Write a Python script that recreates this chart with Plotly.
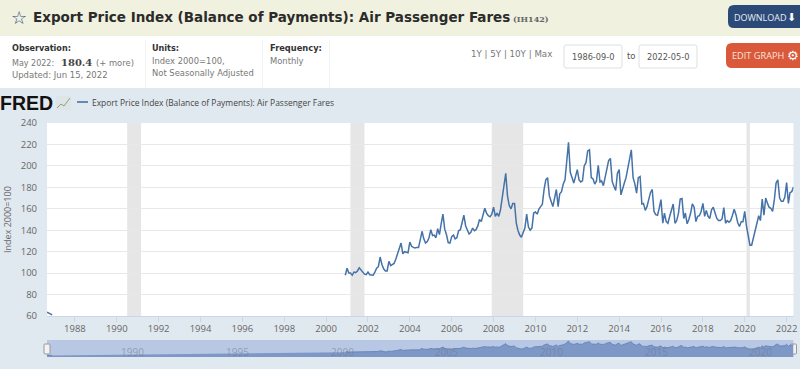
import pandas as pd
import plotly.graph_objects as go

W, H = 800, 369
NAVY = "#2c4a78"
LINE = "#4572a7"
BG = "#e1e9f0"

early_start = "1986-09-01"
early_values = [63.5, 62.8, 62, 61]
late_start = "2000-12-01"
late_values = [
    98, 104.5, 100, 100, 98, 101, 100.5, 102, 105, 103, 102, 99, 98.5,
    101, 98.5, 98, 98, 101, 104.5, 106, 115, 108, 104, 102, 102,
    111, 107, 108, 109, 113, 118, 124, 128, 118, 120, 119.5, 119,
    129, 125, 124, 123.5, 124, 124, 131, 139, 132, 128, 129.5, 133,
    140.5, 135, 135.5, 133, 141.5, 136, 146, 155, 141, 136, 128.5, 128,
    134, 135.5, 132, 133, 139.5, 140.5, 147, 154, 144, 140, 136.5, 138,
    142, 139.5, 140.5, 144, 150, 148, 155, 160.5, 156, 153.5, 152.5, 155,
    161.5, 153, 156, 153, 159, 172, 183, 193, 171.5, 163, 160, 165,
    165, 146.5, 140, 135.5, 133.5, 137, 142, 155, 143, 140, 142, 156,
    157, 155, 159.5, 162, 164, 178, 187, 189, 172, 167, 162, 170,
    178, 162, 174, 176, 183, 187, 205,
    222, 194, 189, 184, 190, 196.5, 187, 185, 186, 200,
    203, 214, 215, 189, 188, 183, 186, 200.5, 185, 186,
    181.5, 190, 200, 205, 207, 185.5, 181, 177, 193, 196.5,
    173, 179, 184, 189, 198, 204, 215, 189, 183.5, 174.5,
    189, 190, 164.5, 165, 158.5, 162, 168.5, 175, 178, 157.5,
    154.5, 154, 160.5, 168.5, 146.5, 156, 148, 146.5, 153, 159,
    164.5, 146.5, 149, 156, 169, 169.5, 151, 156, 146, 150,
    156, 164.5, 161.5, 148, 153, 153.5, 157.5, 165, 153, 158.5,
    153, 151, 159, 161.5, 155, 151, 149, 149, 150.5, 161,
    146.5, 149, 147.5, 149, 154, 159.5, 154.5, 147, 143.5, 148,
    148, 157.5, 143.5, 135.5, 126, 126, 133.5, 141, 146.5, 153.5,
    149, 169, 154, 170, 165, 161.5, 160.5, 157.5, 168.5, 184,
    187, 170, 167, 167, 171, 184.5, 165, 175, 176, 180.4,
]
recessions = [
    ("1990-07-01", "1991-03-01"),
    ("2001-03-01", "2001-11-01"),
    ("2007-12-01", "2009-06-01"),
    ("2020-02-01", "2020-04-01"),
]
y_ticks = [60, 80, 100, 120, 140, 160, 180, 200, 220, 240]
x_tick_years = list(range(1988, 2023, 2))
nav_years = [1990, 1995, 2000, 2005, 2010, 2015, 2020]

dates = list(pd.date_range(early_start, periods=len(early_values), freq="MS")) + [None] + \
        list(pd.date_range(late_start, periods=len(late_values), freq="MS"))
values = early_values + [None] + late_values
x_range = ["1986-09-01", "2022-05-01"]


def px(x):
    return x / W


def py(y):
    return 1 - y / H


fig = go.Figure()
fig.add_trace(go.Scatter(x=dates, y=values, mode="lines", xaxis="x", yaxis="y",
                         line=dict(color=LINE, width=1.5), connectgaps=False, hoverinfo="skip"))
fig.add_trace(go.Scatter(x=dates, y=values, mode="lines", xaxis="x2", yaxis="y2", fill="tozeroy",
                         fillcolor="#7d97c6", line=dict(color="#5f80b5", width=0.8),
                         connectgaps=False, hoverinfo="skip"))

shapes = []


def rect(x0, y0, x1, y1, fill, line=None, layer="below"):
    shapes.append(dict(type="rect", xref="paper", yref="paper", x0=px(x0), x1=px(x1), y0=py(y0), y1=py(y1),
                       fillcolor=fill, line=dict(color=line or fill, width=1 if line else 0), layer=layer))


def rrect(x0, y0, x1, y1, r, fill, line=None):
    a, b, c, d = px(x0), px(x1), py(y0), py(y1)
    rx, ry = r / W, r / H
    path = (f"M{a+rx},{c} L{b-rx},{c} Q{b},{c} {b},{c-ry} L{b},{d+ry} Q{b},{d} {b-rx},{d} "
            f"L{a+rx},{d} Q{a},{d} {a},{d+ry} L{a},{c-ry} Q{a},{c} {a+rx},{c} Z")
    shapes.append(dict(type="path", xref="paper", yref="paper", path=path, fillcolor=fill,
                       line=dict(color=line or fill, width=1 if line else 0), layer="below"))


rect(0, 0, W, 36, "#f0f1de")
rect(0, 36, W, 88, "#ffffff")
for sx in (145, 262, 329):
    rect(sx, 40, sx + 1, 88, "#f0f2f4")
rrect(728, 5, 806, 28, 6, NAVY)
rrect(726, 43, 806, 68, 6, "#d9593a")
rrect(564, 45, 622, 68, 2, "#ffffff", "#dcdfe3")
rrect(639, 45, 697, 68, 2, "#ffffff", "#dcdfe3")
rect(47, 340, 793.5, 357, "#b8c7e3")

for a, b in recessions:
    shapes.append(dict(type="rect", xref="x", yref="paper", x0=a, x1=b, y0=py(316), y1=py(123),
                       fillcolor="#e6e6e6", line=dict(width=0), layer="below"))

# legend key and FRED icon
shapes.append(dict(type="line", xref="paper", yref="paper", x0=px(77), x1=px(88), y0=py(102), y1=py(102),
                   line=dict(color=LINE, width=1.6)))
rect(56, 96, 71, 110, "#dfe5e6")
shapes.append(dict(type="path", xref="paper", yref="paper",
                   path=f"M{px(57)},{py(108)} L{px(61)},{py(104)} L{px(64)},{py(106)} L{px(70)},{py(98)}",
                   line=dict(color="#8aa37a", width=1)))
# navigator handles
for hx in (47, 793.5):
    rrect(hx - 3, 344, hx + 3, 354, 1, "#f2f2f2", "#999999")

ann = []


def text(x, y, s, size=10, color="#555555", family="DejaVu Sans", anchor="left", bold=False, angle=0):
    ann.append(dict(x=px(x), y=py(y), xref="paper", yref="paper", xanchor=anchor, yanchor="middle",
                    showarrow=False, text=f"<b>{s}</b>" if bold else s, textangle=angle,
                    font=dict(size=size, color=color, family=family), borderpad=0, borderwidth=0))


text(11, 17, "☆", 18, NAVY)
text(33, 17, "Export Price Index (Balance of Payments): Air Passenger Fares", 13.5, "#2b2b2b", bold=True)
text(513, 19, "(IH142)", 8, "#666666", family="DejaVu Serif", bold=True)
text(734, 17, "DOWNLOAD", 9, "#e8edf4", family="Open Sans")
text(787, 17, "⬇", 11, "#ffffff")
text(732, 55, "EDIT GRAPH", 9.2, "#f7e4dd", family="Open Sans")
text(787, 55, "⚙", 13, "#ffffff")
text(12, 48, "Observation:", 8.1, "#333333", bold=True)
text(12, 63, "May 2022:", 8, "#777777")
text(61, 62, "180.4", 10, "#444444", family="DejaVu Serif", bold=True)
text(96, 63, "(+ more)", 8.4, "#777777")
text(12, 75, "Updated: Jun 15, 2022", 8.5, "#777777")
text(152, 48, "Units:", 8.1, "#333333", bold=True)
text(152, 61, "Index 2000=100,", 8.4, "#777777")
text(152, 73, "Not Seasonally Adjusted", 8.4, "#777777")
text(270, 48, "Frequency:", 8.3, "#333333", bold=True)
text(270, 61, "Monthly", 8.4, "#777777")
text(470.5, 54, "1Y | 5Y | 10Y | Max", 8.7, "#777777")
text(571.5, 57, "1986-09-0", 8.2, "#555555")
text(626.5, 56, "to", 8.5, "#555555")
text(646.5, 57, "2022-05-0", 8.2, "#555555")
text(0, 103, "FRED", 19.5, "#111111", family="Liberation Sans", bold=True)
text(92, 102.5, "Export Price Index (Balance of Payments): Air Passenger Fares", 8.45, "#444444", family="Open Sans")
text(7, 220, "Index 2000=100", 9, "#666666", family="Open Sans", anchor="center", angle=-90)

for yr in nav_years:
    ann.append(dict(x=f"{yr}-01-01", y=py(351.5), xref="x", yref="paper", xanchor="left", yanchor="middle",
                    xshift=2.5, showarrow=False, text=str(yr),
                    font=dict(size=10, color="rgba(110,120,140,0.55)", family="Open Sans")))

fig.update_layout(
    width=W, height=H, autosize=False, margin=dict(l=0, r=0, t=0, b=0, pad=0, autoexpand=False),
    paper_bgcolor=BG, plot_bgcolor="#ffffff", showlegend=False, shapes=shapes, annotations=ann,
    xaxis=dict(domain=[px(47), px(793.5)], range=x_range, type="date", showgrid=False, zeroline=False,
               tickmode="array", tickvals=[f"{y}-01-01" for y in x_tick_years],
               ticktext=[str(y) for y in x_tick_years], ticks="outside", ticklen=5, tickcolor="#ccd6eb",
               showline=True, linecolor="#ccd6eb", linewidth=1, anchor="y", ticklabelstandoff=-1,
               tickfont=dict(size=9.5, color="#666666", family="Open Sans")),
    yaxis=dict(domain=[py(316), py(123)], range=[60, 240], tickvals=y_ticks, showgrid=True,
               gridcolor="#e8e8e8", gridwidth=1, zeroline=False, ticks="", showline=False, anchor="x",
               ticklabelstandoff=9,
               tickfont=dict(size=9.5, color="#666666", family="Open Sans")),
    xaxis2=dict(domain=[px(47), px(793.5)], range=x_range, type="date", visible=False, anchor="y2"),
    yaxis2=dict(domain=[py(357), py(340)], range=[45, 233], visible=False, anchor="x2"),
)
fig.write_html("out.html", config={"displayModeBar": False},
               post_script="document.body.style.margin='0';")
